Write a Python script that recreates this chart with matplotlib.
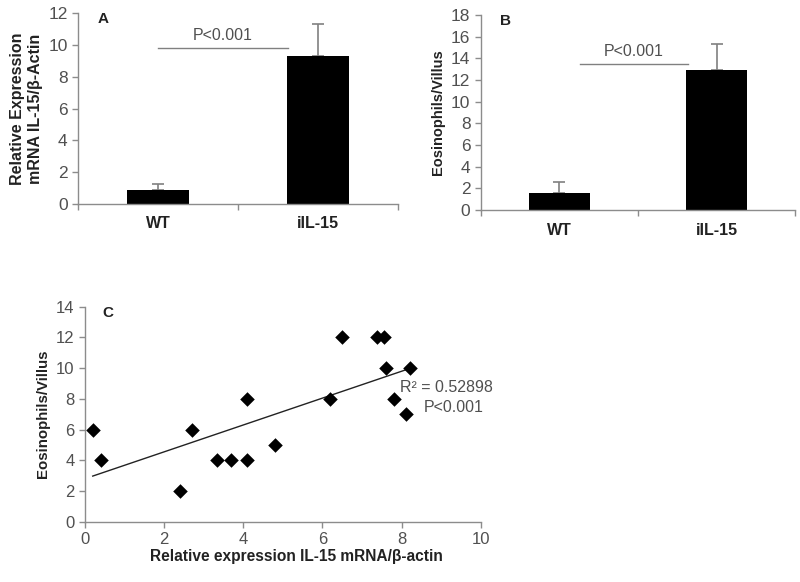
import matplotlib
matplotlib.use("Agg")
import matplotlib.pyplot as plt
import numpy as np

plt.rcParams['font.family'] = ['Liberation Sans', 'DejaVu Sans']

# Panel A data
a_categories = ["WT", "iIL-15"]
a_values = [0.88, 9.3]
a_errors = [0.35, 2.0]

# Panel B data
b_categories = ["WT", "iIL-15"]
b_values = [1.6, 12.9]
b_errors = [1.0, 2.4]

# Panel C data
c_x = [0.2, 0.42, 2.4, 2.7, 3.35, 3.7, 4.1, 4.1, 4.8, 6.2, 6.5, 7.37, 7.55, 7.6, 8.2, 7.8, 8.1]
c_y = [6, 4, 2, 6, 4, 4, 8, 4, 5, 8, 12, 12, 12, 10, 10, 8, 7]

AXC = '#8c8c8c'
TXC = '#505050'

fig = plt.figure(figsize=(8, 5.82), dpi=100)


def style(ax, ls):
    for s in ['top', 'right']:
        ax.spines[s].set_visible(False)
    for s in ['left', 'bottom']:
        ax.spines[s].set_color(AXC)
        ax.spines[s].set_linewidth(1.0)
    ax.tick_params(axis='both', colors=AXC, labelcolor=TXC, labelsize=ls,
                   direction='out', length=4, width=1.0)


def bar_panel(ax, cats, vals, errs, ymax, ystep, label, sig_y, sig_x, ylabel, ylfs):
    xs = np.arange(len(cats))
    ax.bar(xs, vals, width=0.39, color='black', zorder=2)
    ax.errorbar(xs, vals, yerr=[np.zeros(len(errs)), errs], fmt='none',
                ecolor='#808080', elinewidth=1.2, capsize=4, capthick=1.2, zorder=1)
    ax.set_xlim(-0.5, len(cats) - 0.5)
    ax.set_ylim(0, ymax)
    ax.set_yticks(np.arange(0, ymax + 0.1, ystep))
    ax.set_xticks(np.arange(-0.5, len(cats), 1.0))
    ax.set_xticklabels([])
    ax.set_xticks(xs, minor=True)
    ax.set_xticklabels(cats, minor=True, fontweight='bold', fontsize=11.5, color='#222222')
    style(ax, 12.5)
    ax.tick_params(axis='x', which='minor', length=0, pad=9)
    ax.set_ylabel(ylabel, fontweight='bold', fontsize=ylfs, color='#222222', labelpad=4)
    ax.text(0.06, 1.005, label, transform=ax.transAxes, fontweight='bold',
            fontsize=11, va='top', ha='left', color='#222222')
    ax.plot(sig_x, [sig_y, sig_y], color='#808080', lw=1.0)
    ax.text(np.mean(sig_x), sig_y + ymax * 0.025, "P<0.001", ha='center', va='bottom',
            fontsize=11.5, color=TXC)


axA = fig.add_axes([0.0975, 0.6495, 0.40, 0.328])
bar_panel(axA, a_categories, a_values, a_errors, 12, 2, "A", 9.8, [0.0, 0.81],
          "Relative Expression\nmRNA IL-15/β-Actin", 11.5)

axB = fig.add_axes([0.601, 0.639, 0.393, 0.335])
bar_panel(axB, b_categories, b_values, b_errors, 18, 2, "B", 13.5, [0.13, 0.82],
          "Eosinophils/Villus", 10.5)

axC = fig.add_axes([0.106, 0.1036, 0.495, 0.3694])
axC.scatter(c_x, c_y, marker='D', s=55, color='black', zorder=3, linewidths=0)
coef = np.polyfit(c_x, c_y, 1)
xl = np.array([min(c_x), max(c_x) - 0.1])
axC.plot(xl, np.polyval(coef, xl), color='#222222', lw=1.0)
axC.set_xlim(0, 10)
axC.set_ylim(0, 14)
axC.set_xticks(np.arange(0, 11, 2))
axC.set_yticks(np.arange(0, 15, 2))
style(axC, 12)
axC.set_xlabel("Relative expression IL-15 mRNA/β-actin", fontweight='bold',
               fontsize=11.2, color='#222222')
axC.xaxis.set_label_coords(0.535, -0.125)
axC.set_ylabel("Eosinophils/Villus", fontweight='bold', fontsize=10.8, color='#222222')
axC.text(0.045, 1.005, "C", transform=axC.transAxes, fontweight='bold', fontsize=11,
         va='top', ha='left', color='#222222')
axC.text(7.95, 8.75, "R² = 0.52898", fontsize=11.5, color=TXC, va='center', ha='left')
axC.text(8.55, 7.45, "P<0.001", fontsize=11.5, color=TXC, va='center', ha='left')

fig.savefig("out.png", dpi=100)
